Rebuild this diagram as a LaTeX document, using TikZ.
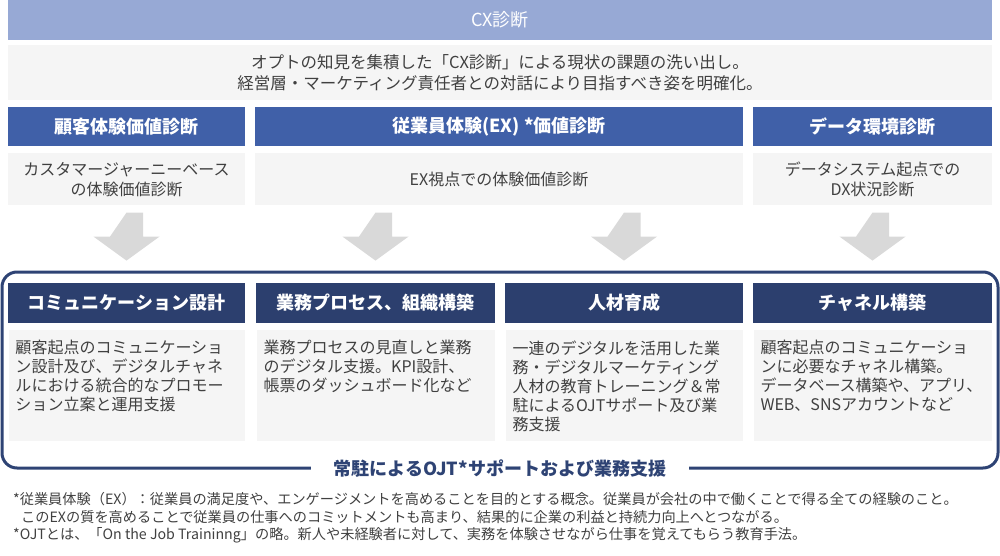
\documentclass[tikz,border=0pt]{standalone}
\usepackage{fontspec}
\setmainfont{Noto Sans CJK JP}
\usepackage{tikz}
\usetikzlibrary{positioning}
\definecolor{cxtop}{HTML}{97A9D5}
\definecolor{diagblue}{HTML}{4060A8}
\definecolor{supnavy}{HTML}{2C3F6E}
\definecolor{boxgray}{HTML}{F5F5F5}
\definecolor{arrgray}{HTML}{D9D9D9}
\definecolor{txtgray}{HTML}{404040}
\definecolor{framenavy}{HTML}{2E4374}

\begin{document}
\begin{tikzpicture}[x=1pt,y=-1pt,
	topbar/.style={fill=cxtop,text=white,inner sep=0pt,minimum height=40,font=\fontsize{18}{20}\selectfont},
	graybox/.style={fill=boxgray,inner sep=0pt,text=txtgray,align=center,font=\fontsize{16}{20}\selectfont},
	hdblue/.style={fill=diagblue,text=white,inner sep=0pt,minimum height=39,font=\bfseries\fontsize{18}{22}\selectfont},
	hdnavy/.style={fill=supnavy,text=white,inner sep=0pt,minimum height=40,font=\bfseries\fontsize{18}{22}\selectfont},
	bodytxt/.style={text=txtgray,inner sep=0pt,align=left,anchor=north west,font=\fontsize{16}{19}\selectfont},
	blockarrow/.style={fill=arrgray},
	ojtframe/.style={draw=framenavy,line width=3pt,rounded corners=15pt,inner sep=0pt},
	ojtlabel/.style={fill=white,text=framenavy,inner xsep=23pt,inner ysep=9pt,font=\bfseries\fontsize{18}{20}\selectfont},
	note/.style={text=txtgray,inner sep=0pt,align=left,anchor=north west,font=\fontsize{14.2}{17.8}\selectfont}]
	\useasboundingbox (0,0) rectangle (1000,556);
	
	% CX banner and intro
	\node[topbar,minimum width=984] (cx) at (500,20) {CX診断};
	\node[graybox,minimum width=984,minimum height=55,font=\fontsize{16.5}{21}\selectfont,below=5pt of cx] (intro)
		{オプトの知見を集積した「CX診断」による現状の課題の洗い出し。\\経営層・マーケティング責任者との対話により目指すべき姿を明確化。};
	
	% diagnosis headers
	\node[hdblue,minimum width=237] (d1) at (126.5,126.5) {顧客体験価値診断};
	\node[hdblue,minimum width=488] (d2) at (499,126.5) {従業員体験(EX) *価値診断};
	\node[hdblue,minimum width=239] (d3) at (872.5,126.5) {データ環境診断};
	
	\node[graybox,minimum width=237,minimum height=52,below=7pt of d1] (s1) {カスタマージャーニーベース\\の体験価値診断};
	\node[graybox,minimum width=488,minimum height=52,below=7pt of d2] (s2) {EX視点での体験価値診断};
	\node[graybox,minimum width=239,minimum height=52,below=7pt of d3] (s3) {データシステム起点での\\DX状況診断};
	
	% support frame
	\node[ojtframe,minimum width=996,minimum height=196] (ojt) at (500,370) {};
	
	\node[hdnavy,minimum width=237] (b1) at (126.5,303) {コミュニケーション設計};
	\node[hdnavy,minimum width=239] (b2) at (375.5,303) {業務プロセス、組織構築};
	\node[hdnavy,minimum width=238] (b3) at (624,303) {人材育成};
	\node[hdnavy,minimum width=239] (b4) at (872.5,303) {チャネル構築};
	
	\node[graybox,minimum width=236,minimum height=111,below=7pt of b1] (c1) {};
	\node[graybox,minimum width=238,minimum height=111,below=7pt of b2] (c2) {};
	\node[graybox,minimum width=237,minimum height=111,below=7pt of b3] (c3) {};
	\node[graybox,minimum width=238,minimum height=111,below=7pt of b4] (c4) {};
	
	\node[bodytxt] (t1) at ([xshift=7pt,yshift=-10pt]c1.north west)
		{顧客起点のコミュニケーショ\\ン設計及び、デジタルチャネ\\ルにおける統合的なプロモー\\ション立案と運用支援};
	\node[bodytxt] (t2) at ([xshift=7pt,yshift=-10pt]c2.north west)
		{業務プロセスの見直しと業務\\のデジタル支援。KPI設計、\\帳票のダッシュボード化など};
	\node[bodytxt] (t3) at ([xshift=7pt,yshift=-10pt]c3.north west)
		{一連のデジタルを活用した業\\務・デジタルマーケティング\\人材の教育トレーニング＆常\\駐によるOJTサポート及び業\\務支援};
	\node[bodytxt] (t4) at ([xshift=7pt,yshift=-10pt]c4.north west)
		{顧客起点のコミュニケーショ\\ンに必要なチャネル構築。\\データベース構築や、アプリ、\\WEB、SNSアカウントなど};
	
	% grey arrows
	\foreach \b in {b1,b2,b3,b4}
		\fill[blockarrow] ([yshift=-7pt]\b.north |- s1.south) -- ++(16.5,0) -- ++(0,24) -- ++(16.5,0)
			-- ++(-33,24) -- ++(-33,-24) -- ++(16.5,0) -- cycle;
	
	\node[ojtlabel] (lbl) at ([yshift=1pt]ojt.south) {常駐によるOJT*サポートおよび業務支援};
	
	% notes
	\node[note] (notes) at (13,492)
		{*従業員体験（EX）：従業員の満足度や、エンゲージメントを高めることを目的とする概念。従業員が会社の中で働くことで得る全ての経験のこと。\\
		\hspace{8pt}このEXの質を高めることで従業員の仕事へのコミットメントも高まり、結果的に企業の利益と持続力向上へとつながる。\\
		*OJTとは、「On the Job Traininng」の略。新人や未経験者に対して、実務を体験させながら仕事を覚えてもらう教育手法。};
\end{tikzpicture}
\end{document}
